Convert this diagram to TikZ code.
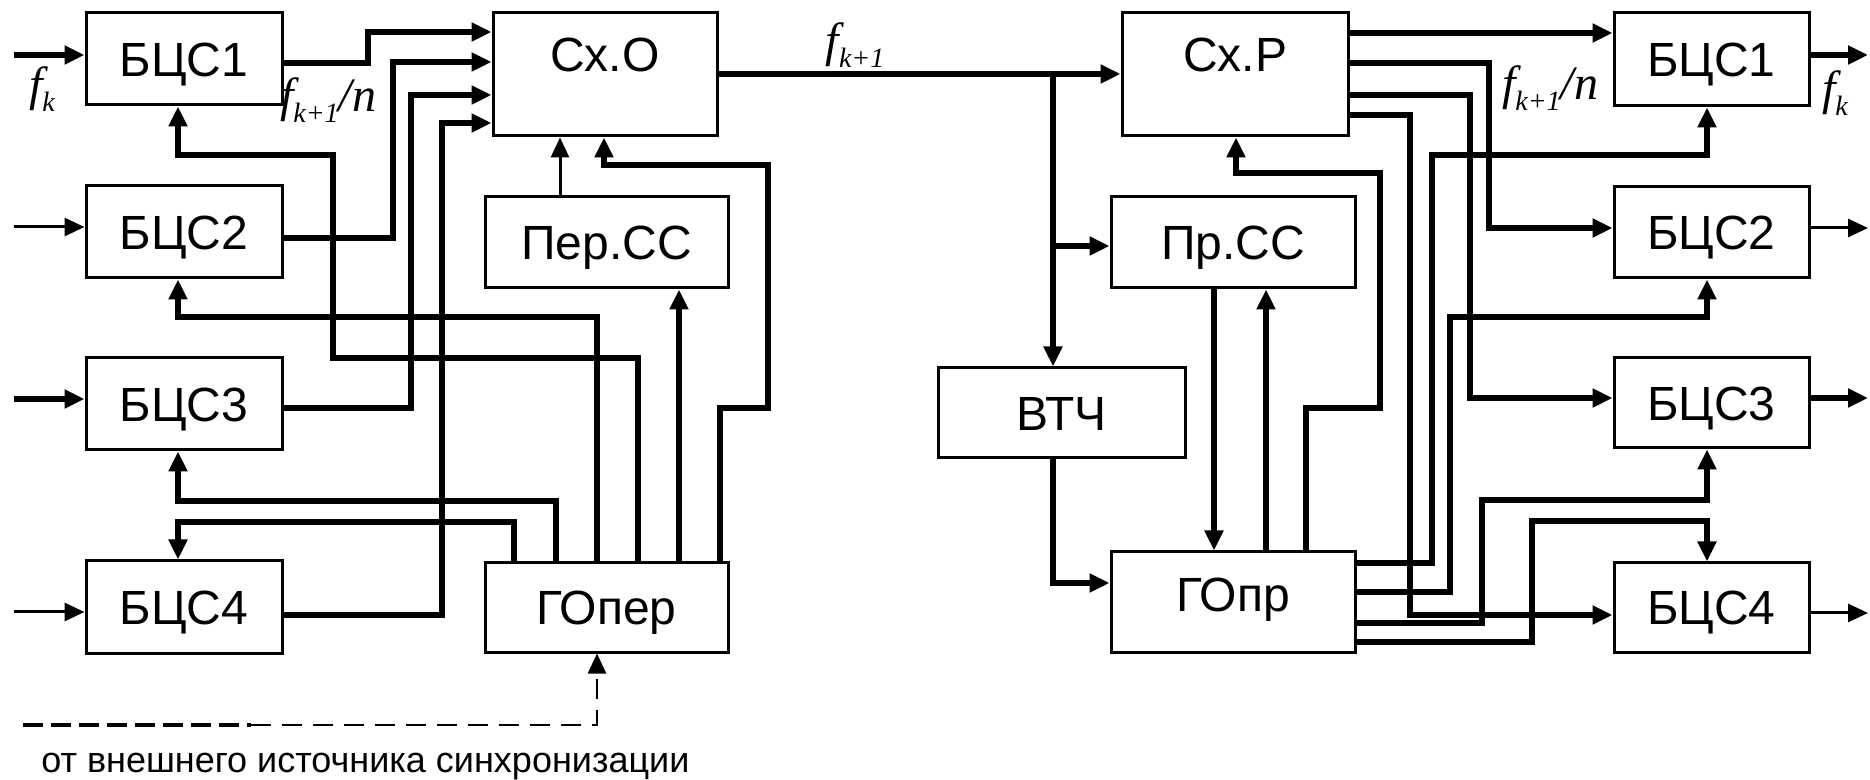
\documentclass[tikz,border=0pt]{standalone}
\usepackage{fontspec}
\setmainfont{Liberation Sans}
\newfontfamily\tms{Liberation Serif}
\newcommand\fsb[1]{\raisebox{-0.22em}{\fontsize{14}{14}\selectfont #1}}
\usetikzlibrary{arrows.meta}
\begin{document}
\begin{tikzpicture}[x=0.5pt,y=-0.5pt,
 box/.style={draw,line width=1.5pt,inner sep=0pt,font=\fontsize{24}{28}\selectfont,text height=17.2pt,text depth=0pt},
 bw/.style={minimum width=98pt,minimum height=46pt},
 thk/.style={line width=2.6pt,line join=miter},
 thn/.style={line width=1.5pt,line join=miter},
 arr/.style={-{Triangle[length=10pt,width=9pt]}},
 flab/.style={font=\tms\itshape\fontsize{24}{28}\selectfont,inner sep=0pt},
]
\useasboundingbox[fill=white] (0,0) rectangle (1870,780);
% boxes
\node[box,bw] (B1) at (184,59) {БЦС1};
\node[box,bw] (B2) at (184,232) {БЦС2};
\node[box,bw] (B3) at (184,404) {БЦС3};
\node[box,bw] (B4) at (184,607) {БЦС4};
\node[box,minimum width=112pt,minimum height=61.5pt,text height=29.5pt,text depth=32pt] (CxO) at (605,74.5) {Сх.О};
\node[box,minimum width=121.5pt,minimum height=45.5pt] (PerSS) at (606.5,242.5) {Пер.СС};
\node[box,minimum width=121.5pt,minimum height=44.5pt] (GOper) at (606.5,607.5) {ГОпер};
\node[box,minimum width=113pt,minimum height=61.5pt,text height=29.5pt,text depth=32pt] (CxP) at (1235,74.5) {Сх.Р};
\node[box,minimum width=122pt,minimum height=45.5pt] (PrSS) at (1233,242.5) {Пр.СС};
\node[box,minimum width=123.5pt,minimum height=45pt] (VTCh) at (1061.5,413) {ВТЧ};
\node[box,minimum width=122pt,minimum height=50pt,text depth=8pt] (GOpr) at (1233,602) {ГОпр};
\node[box,minimum width=97.5pt,minimum height=46.5pt] (R1) at (1711.5,59.5) {БЦС1};
\node[box,minimum width=97.5pt,minimum height=45.5pt] (R2) at (1711.5,232.5) {БЦС2};
\node[box,minimum width=97.5pt,minimum height=45pt] (R3) at (1711.5,403) {БЦС3};
\node[box,minimum width=97.5pt,minimum height=44.5pt] (R4) at (1711.5,607.5) {БЦС4};
% inputs
\coordinate (i1) at (14,55); \draw[thk,arr] (i1) -- (i1 -| B1.west);
\coordinate (i2) at (14,227); \draw[thn,arr] (i2) -- (i2 -| B2.west);
\coordinate (i3) at (14,399); \draw[thk,arr] (i3) -- (i3 -| B3.west);
\coordinate (i4) at (14,612); \draw[thn,arr] (i4) -- (i4 -| B4.west);
% B outputs to CxO
\draw[thk,arr] (B1.east |- 0,63) -- (368,63) -- (368,32) -- (CxO.west |- 0,32);
\draw[thk,arr] (B2.east |- 0,238) -- (393,238) -- (393,62) -- (CxO.west |- 0,62);
\draw[thk,arr] (B3.east |- 0,408) -- (411,408) -- (411,95) -- (CxO.west |- 0,95);
\draw[thk,arr] (B4.east |- 0,615) -- (442,615) -- (442,123) -- (CxO.west |- 0,123);
% GOper outputs
\draw[thk,arr] (GOper.north -| 638,0) -- (638,358) -- (333,358) -- (333,155) -- (178,155) -- (B1.south -| 178,0);
\draw[thk,arr] (GOper.north -| 597,0) -- (597,317) -- (178,317) -- (B2.south -| 178,0);
\draw[thk,arr] (GOper.north -| 556,0) -- (556,501) -- (178,501) -- (B3.south -| 178,0);
\draw[thk,arr] (GOper.north -| 514,0) -- (514,522) -- (178,522) -- (B4.north -| 178,0);
\draw[thk,arr] (GOper.north -| 679,0) -- (PerSS.south -| 679,0);
\draw[thk,arr] (GOper.north -| 720,0) -- (720,408) -- (768,408) -- (768,165) -- (604,165) -- (CxO.south -| 604,0);
\draw[thn,arr] (PerSS.north -| 560,0) -- (CxO.south -| 560,0);
% external sync
\coordinate (ext) at (23,725);
\draw[line width=2.4pt,dash pattern=on 10pt off 4pt] (ext) -- (251,725);
\draw[line width=1.2pt,dash pattern=on 10pt off 5.5pt,arr] (251,725) -- (597,725) -- (GOper.south -| 597,0);
\node[font=\fontsize{18}{22}\selectfont,anchor=base west,inner sep=0pt] (extlbl) at (41,772) {от внешнего источника синхронизации};
% main line
\draw[thk,arr] (CxO.east |- 0,74) -- (CxP.west |- 0,74);
\coordinate (j1) at (1053,74);
\coordinate (j2) at (1053,246);
\draw[thk,arr] (j1) -- (VTCh.north -| j1);
\draw[thk,arr] (j2) -- (PrSS.west |- j2);
\draw[thk,arr] (VTCh.south -| 1053,0) -- (1053,583) -- (GOpr.west |- 0,583);
\draw[thk,arr] (PrSS.south -| 1214,0) -- (GOpr.north -| 1214,0);
\draw[thk,arr] (GOpr.north -| 1266,0) -- (PrSS.south -| 1266,0);
\draw[thk,arr] (GOpr.north -| 1306,0) -- (1306,408) -- (1380,408) -- (1380,173) -- (1236,173) -- (CxP.south -| 1236,0);
% CxP outputs
\draw[thk,arr] (CxP.east |- 0,33) -- (R1.west |- 0,33);
\draw[thk,arr] (CxP.east |- 0,63) -- (1489,63) -- (1489,228) -- (R2.west |- 0,228);
\draw[thk,arr] (CxP.east |- 0,95) -- (1470,95) -- (1470,398) -- (R3.west |- 0,398);
\draw[thk,arr] (CxP.east |- 0,115) -- (1410,115) -- (1410,615) -- (R4.west |- 0,615);
% GOpr outputs
\draw[thk,arr] (GOpr.east |- 0,563) -- (1432,563) -- (1432,155) -- (1707,155) -- (R1.south -| 1707,0);
\draw[thk,arr] (GOpr.east |- 0,592) -- (1450,592) -- (1450,317) -- (1707,317) -- (R2.south -| 1707,0);
\draw[thk,arr] (GOpr.east |- 0,623) -- (1482,623) -- (1482,500) -- (1707,500) -- (R3.south -| 1707,0);
\draw[thk,arr] (GOpr.east |- 0,642) -- (1532,642) -- (1532,521) -- (1707,521) -- (R4.north -| 1707,0);
% R outputs
\coordinate (o1) at (1868,55); \draw[thk,arr] (R1.east |- o1) -- (o1);
\coordinate (o2) at (1868,228); \draw[thn,arr] (R2.east |- o2) -- (o2);
\coordinate (o3) at (1868,398); \draw[thk,arr] (R3.east |- o3) -- (o3);
\coordinate (o4) at (1868,613); \draw[thn,arr] (R4.east |- o4) -- (o4);
% labels
\node[flab] (fkL) at (42,89) {f\fsb{k}};
\node[flab] (fknL) at (328,100) {f\fsb{k+1}/n};
\node[flab] (fkt) at (855,45) {f\fsb{k+1}};
\node[flab] (fknR) at (1550,88) {f\fsb{k+1}/n};
\node[flab] (fkR) at (1835,93) {f\fsb{k}};
\end{tikzpicture}
\end{document}
